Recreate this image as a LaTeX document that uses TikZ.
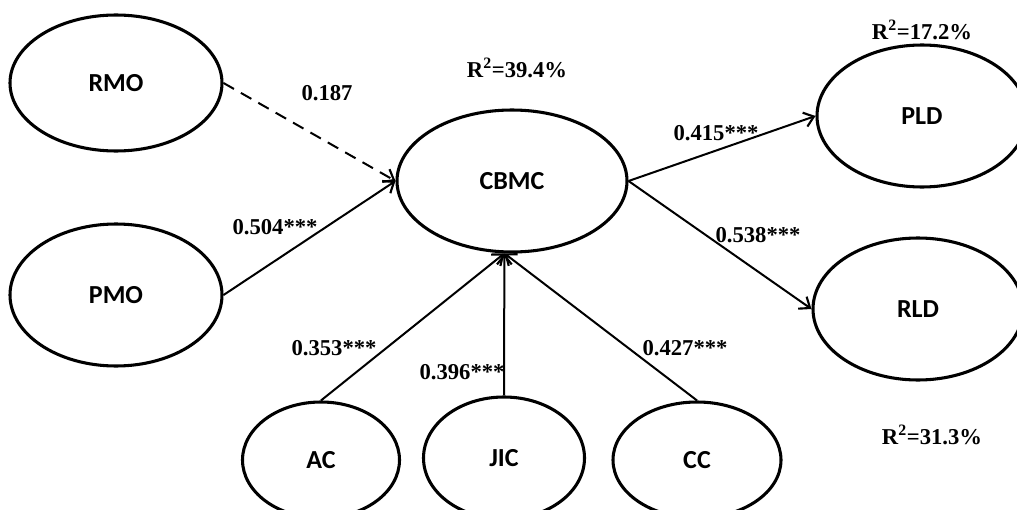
\documentclass[tikz,border=0pt]{standalone}
\usepackage{fontspec}
\setmainfont{Liberation Serif}
\newfontfamily\latentfont{Carlito}
\usepackage{tikz}
\usetikzlibrary{arrows.meta,shapes.geometric}
\newdimen\px \px=0.75pt
\tikzstyle{latent} = [ellipse, draw, line width=2.3pt, inner sep=0pt, font=\latentfont\bfseries\fontsize{19.5}{22}\selectfont]
\tikzstyle{line} = [draw, line width=1.5pt, -{Straight Barb[length=7pt,width=11pt,line width=1.6pt]}]
\tikzstyle{dashline} = [line, dash pattern=on 9pt off 6pt]
\tikzstyle{coef} = [font=\bfseries\fontsize{17}{20}\selectfont, inner sep=0pt]

\begin{document}
\begin{tikzpicture} [x=0.75pt, y=-0.75pt]
\useasboundingbox (0,0) rectangle (1017,510);
% Place nodes
\node [latent, minimum width=212\px, minimum height=136\px] (rmo) at (116,83) {RMO};
\node [latent, minimum width=212\px, minimum height=142\px] (pmo) at (116,295) {PMO};
\node [latent, minimum width=230\px, minimum height=142\px] (cbmc) at (512,181) {CBMC};
\node [latent, minimum width=210\px, minimum height=142\px] (pld) at (922,116) {PLD};
\node [latent, minimum width=210\px, minimum height=142\px] (rld) at (918,309) {RLD};
\node [latent, minimum width=157\px, minimum height=116\px] (ac) at (321,460) {AC};
\node [latent, minimum width=161\px, minimum height=122\px] (jic) at (504,458) {JIC};
\node [latent, minimum width=168\px, minimum height=116\px] (cc) at (697,460) {CC};
% Labels
\node [coef] (r2cbmc) at (517,68) {R\textsuperscript{2}=39.4\%};
\node [coef] (r2pld) at (922,30) {R\textsuperscript{2}=17.2\%};
\node [coef] (r2rld) at (932,435) {R\textsuperscript{2}=31.3\%};
\node [coef] (crmo) at (327,93) {0.187};
\node [coef] (cpmo) at (275,227) {0.504***};
\node [coef] (cpld) at (716,133) {0.415***};
\node [coef] (crld) at (758,235) {0.538***};
\node [coef] (cac) at (334,348) {0.353***};
\node [coef] (cjic) at (462,372) {0.396***};
\node [coef] (ccc) at (685,348) {0.427***};
% Draw edges
\path [dashline] (rmo.east) -- (cbmc.west);
\path [line] (pmo.east) -- (cbmc.west);
\path [line] (ac.north) -- (cbmc.264);
\path [line] (jic.north) -- (cbmc.264);
\path [line] (cc.north) -- (cbmc.264);
\path [line] (cbmc.east) -- (pld.west);
\path [line] (cbmc.east) -- (rld.west);

\end{tikzpicture}
\end{document}
